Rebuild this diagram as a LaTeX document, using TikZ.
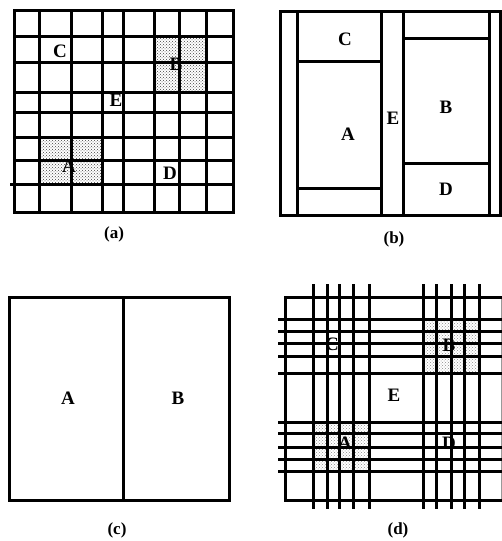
\documentclass[tikz,border=0pt]{standalone}
\usepackage{fontspec}
\setmainfont{Liberation Serif}
\usetikzlibrary{patterns}
\tikzset{
  gridline/.style={line width=3pt, line cap=rect},
  lbl/.style={font=\bfseries\fontsize{19}{19}\selectfont, inner sep=0pt},
  captxt/.style={font=\bfseries\fontsize{17}{17}\selectfont, inner sep=0pt},
  shadeA/.style={pattern=crosshatch dots, pattern color=black!75},
  shadeD/.style={pattern=crosshatch dots, pattern color=black!45}
}
\begin{document}
\begin{tikzpicture}[x=1pt,y=-1pt]
\useasboundingbox[fill=white] (0,0) rectangle (502,541);

% ---------- (a) ----------
\fill[shadeA] (39,137) rectangle (102,184);
\fill[shadeA] (154,36) rectangle (206,92);
\foreach \x in {39,71,102,123,154,179,206}
  \draw[gridline] (\x,10) -- (\x,212);
\foreach \y in {36,62,92,112,137,160}
  \draw[gridline] (14,\y) -- (233,\y);
\draw[gridline] (11,184) -- (233,184);
\draw[gridline] (14,10) rectangle (233,212);
\node[lbl] (aC) at (60,51) {C};
\node[lbl] (aB) at (176,64) {B};
\node[lbl] (aE) at (116,100) {E};
\node[lbl] (aA) at (69,166) {A};
\node[lbl] (aD) at (170,173) {D};
\node[captxt] (capa) at (114,234) {(a)};

% ---------- (b) ----------
\draw[gridline] (280,11) rectangle (500,215);
\foreach \x in {297,381,403,489}
  \draw[gridline] (\x,11) -- (\x,215);
\draw[gridline] (297,61) -- (381,61);
\draw[gridline] (297,188) -- (381,188);
\draw[gridline] (403,38) -- (489,38);
\draw[gridline] (403,163) -- (489,163);
\node[lbl] (bC) at (345,39) {C};
\node[lbl] (bA) at (348,134) {A};
\node[lbl] (bE) at (393,118) {E};
\node[lbl] (bB) at (446,107) {B};
\node[lbl] (bD) at (446,189) {D};
\node[captxt] (capb) at (394,239) {(b)};

% ---------- (c) ----------
\draw[gridline] (9,297) rectangle (229,500);
\draw[gridline] (123,297) -- (123,500);
\node[lbl] (cA) at (68,398) {A};
\node[lbl] (cB) at (178,398) {B};
\node[captxt] (capc) at (117,530) {(c)};

% ---------- (d) ----------
\fill[shadeD] (423,319) rectangle (479,373);
\fill[shadeD] (313,422) rectangle (369,471);
\draw[line width=0.8pt, black!40] (501,297) -- (501,500);
\draw[gridline] (502,297) -- (285,297) -- (285,500) -- (500,500);
\foreach \x in {313,327,339,353,369,423,436,451,464,479}
  \draw[gridline] (\x,285) -- (\x,507);
\foreach \y in {319,331,343,356,373,422,433,447,459,471}
  \draw[gridline] (279,\y) -- (502,\y);
\node[lbl] (dC) at (332,344) {C};
\node[lbl] (dB) at (449,345) {B};
\node[lbl] (dE) at (394,395) {E};
\node[lbl] (dA) at (345,443) {A};
\node[lbl] (dD) at (449,443) {D};
\node[captxt] (capd) at (398,530) {(d)};
\end{tikzpicture}
\end{document}
